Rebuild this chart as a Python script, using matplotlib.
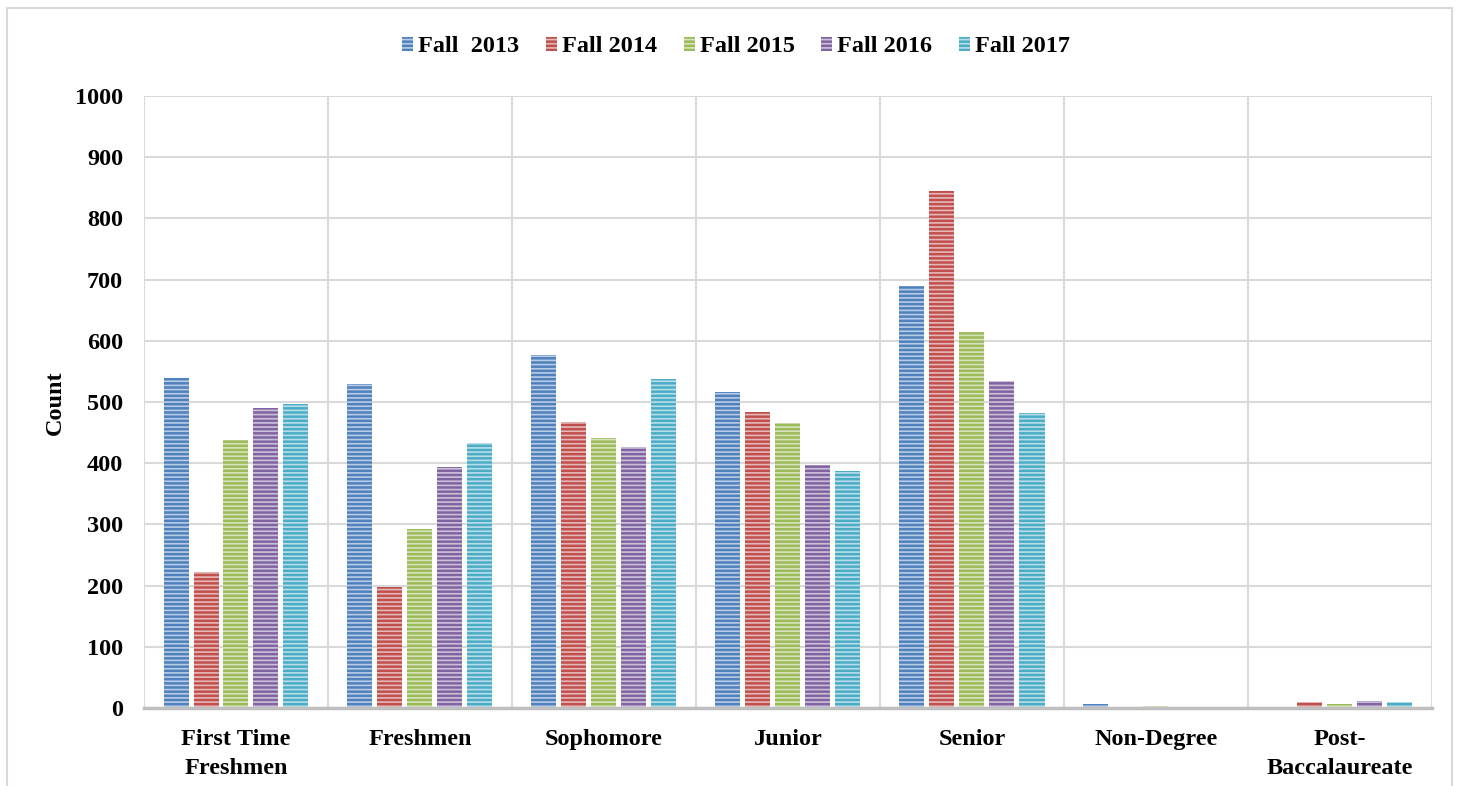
import matplotlib
matplotlib.use("Agg")
import matplotlib.pyplot as plt
from matplotlib.patches import Rectangle
import numpy as np

categories = ["First Time\nFreshmen", "Freshmen", "Sophomore", "Junior",
              "Senior", "Non-Degree", "Post-\nBaccalaureate"]
series_names = ["Fall  2013", "Fall 2014", "Fall 2015", "Fall 2016", "Fall 2017"]
fall_2013 = [539, 530, 576, 516, 690, 6, 2]
fall_2014 = [223, 198, 468, 484, 845, 0, 9]
fall_2015 = [438, 292, 441, 466, 615, 4, 7]
fall_2016 = [491, 393, 427, 397, 535, 0, 11]
fall_2017 = [496, 433, 538, 387, 482, 0, 10]
y_ticks = [0, 100, 200, 300, 400, 500, 600, 700, 800, 900, 1000]

series = [fall_2013, fall_2014, fall_2015, fall_2016, fall_2017]
colors = ["#4F81BD", "#C0504D", "#9BBB59", "#8064A2", "#4BACC6"]
stripe = (1, 1, 1, 0.6)
fs = 17.5

plt.rcParams["font.family"] = ["Liberation Serif", "DejaVu Serif"]
plt.rcParams["font.weight"] = "bold"
plt.rcParams["hatch.linewidth"] = 1.2

W, H = 1465, 786
fig = plt.figure(figsize=(W / 100, H / 100), dpi=100)
ax = fig.add_axes([144 / W, 1 - 708 / H, (1432 - 144) / W, (708 - 96) / H])

x = np.arange(len(categories))
pitch = 30 / 184
width = 25 / 184
for i, (vals, col) in enumerate(zip(series, colors)):
    pos = x + (i - 2) * pitch
    ax.bar(pos, vals, width=width, color=col, linewidth=0, zorder=3)
    ax.bar(pos, vals, width=width, facecolor="none", edgecolor=stripe,
           hatch="----", linewidth=0, zorder=4)

ax.set_xlim(-0.5, len(categories) - 0.5)
ax.set_ylim(0, 1000)
ax.set_yticks(y_ticks)
ax.set_yticklabels([str(v) for v in y_ticks], fontsize=fs, fontweight="bold")
ax.set_xticks(x)
ax.set_xticklabels(categories, fontsize=fs, fontweight="bold", linespacing=1.5)
ax.set_xticks(np.arange(len(categories) + 1) - 0.5, minor=True)
ax.tick_params(axis="both", which="both", length=0)
ax.tick_params(axis="y", pad=15)
ax.tick_params(axis="x", pad=15)

ax.grid(axis="y", which="major", color="#D9D9D9", linewidth=1.5)
ax.grid(axis="x", which="minor", color="#D9D9D9", linewidth=1.5)
ax.set_axisbelow(True)
for s in ax.spines.values():
    s.set_visible(False)
ax.axhline(0, color="#BFBFBF", linewidth=2.5, zorder=5, clip_on=False)

fig.text(55 / W, 1 - 403 / H, "Count", rotation=90, ha="center", va="center",
         fontsize=fs, fontweight="bold")

handles = [Rectangle((0, 0), 1, 1, facecolor=c, edgecolor=stripe, hatch="----",
                     linewidth=0) for c in colors]
fig.legend(handles, series_names, loc="center", ncol=5,
           bbox_to_anchor=(736 / W, 1 - 47 / H), frameon=False,
           prop={"size": fs, "weight": "bold"},
           handlelength=0.45, handleheight=0.55, handletextpad=0.2,
           columnspacing=1.1)

fig.patches.append(Rectangle((7 / W, -0.1), (1452 - 7) / W, 1.1 - 8 / H,
                             transform=fig.transFigure, facecolor="none",
                             edgecolor="#D9D9D9", linewidth=1.5))

fig.savefig("out.png", dpi=100)
